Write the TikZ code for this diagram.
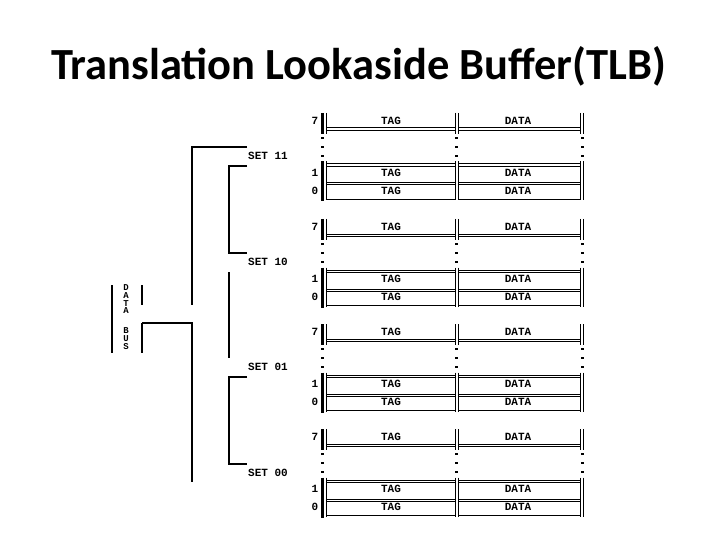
\documentclass[tikz,border=0pt]{standalone}
\usepackage{fontspec}
\newfontfamily\titlefont{Carlito}
\newfontfamily\dosfont{Liberation Mono}
\begin{document}
\begin{tikzpicture}[x=1pt,y=-1pt,
  ln/.style={line width=1pt},
  outerln/.style={line width=2.2pt},
  brk/.style={line width=1.4pt},
  dos/.style={font=\dosfont\bfseries\fontsize{11}{12}\selectfont, inner sep=0pt},
  lbl/.style={dos, anchor=west},
  busl/.style={font=\dosfont\bfseries\fontsize{9}{9}\selectfont, inner sep=0pt}]
\useasboundingbox (0,0) rectangle (720,540);
% title
\node[anchor=base, inner sep=0pt, font=\titlefont\bfseries\fontsize{44.5}{50}\selectfont] (title) at (358.5,80) {Translation Lookaside Buffer(TLB)};
% blocks
\foreach \T/\n in {113/a,219/b,324/c,429/d}{
  % row 7
  \draw[outerln] (322.5,\T) -- (322.5,\T+21);
  \foreach \x in {326,455,458,580,583} \draw[ln] (\x,\T) -- (\x,\T+21);
  \foreach \yy in {15,17.5}{
    \draw[ln] (326,\T+\yy) -- (455,\T+\yy);
    \draw[ln] (458,\T+\yy) -- (580,\T+\yy);
  }
  % dots
  \foreach \x in {321,455,581}
    \foreach \yy in {24,33,42}
      \fill (\x,\T+\yy) rectangle ++(3,2);
  % rows 1 and 0
  \draw[outerln] (322.5,\T+48.5) -- (322.5,\T+88.5);
  \foreach \x in {326,455,458,580,583} \draw[ln] (\x,\T+48.5) -- (\x,\T+87.5);
  \foreach \yy in {51,53.5,70,72,86.5}{
    \draw[ln] (326,\T+\yy) -- (455,\T+\yy);
    \draw[ln] (458,\T+\yy) -- (580,\T+\yy);
  }
  % texts
  \node[dos] (n7\n) at (315,\T+8) {7};
  \node[dos] (n1\n) at (315,\T+60) {1};
  \node[dos] (n0\n) at (315,\T+77.5) {0};
  \node[dos] (t7\n) at (391,\T+8) {TAG};
  \node[dos] (d7\n) at (518,\T+8) {DATA};
  \node[dos] (t1\n) at (391,\T+60) {TAG};
  \node[dos] (d1\n) at (518,\T+60) {DATA};
  \node[dos] (t0\n) at (391,\T+77.5) {TAG};
  \node[dos] (d0\n) at (518,\T+77.5) {DATA};
}
% set labels
\node[lbl] (s11) at (248,156) {SET 11};
\node[lbl] (s10) at (248,262) {SET 10};
\node[lbl] (s01) at (248,367) {SET 01};
\node[lbl] (s00) at (248,473) {SET 00};
% big brackets
\coordinate (ua) at (247,147);
\coordinate (ub) at (192,147);
\coordinate (uc) at (192,305);
\draw[brk] (ua) -- (ub) -- (uc);
\coordinate (la) at (142,323);
\coordinate (lb) at (192,323);
\coordinate (lc) at (192,482);
\draw[brk] (la) -- (lb) -- (lc);
% inner brackets
\draw[brk] (247,166) -- (229,166) -- (229,253) -- (247,253);
\draw[brk] (229,272) -- (229,358);
\draw[brk] (247,377) -- (229,377) -- (229,464) -- (247,464);
% data bus
\draw[brk] (112,285) -- (112,353);
\draw[brk] (142,285) -- (142,305);
\draw[brk] (142,323) -- (142,353);
\foreach \c/\yy/\k in {D/288/1,A/296/2,T/303.5/3,A/311/4,B/331/5,U/339/6,S/347/7}
  \node[busl] (bus\k) at (126,\yy) {\c};
\end{tikzpicture}
\end{document}
